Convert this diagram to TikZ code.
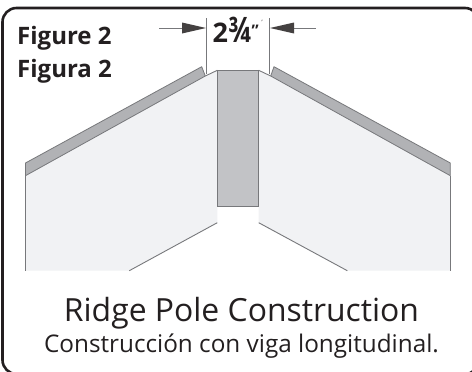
\documentclass[tikz,border=0pt]{standalone}
\usepackage{fontspec}
\usepackage{graphicx}
\setmainfont{Open Sans}
\definecolor{panelfill}{HTML}{F1F2F4}
\definecolor{boardfill}{HTML}{B1B2B5}
\definecolor{polefill}{HTML}{C2C3C6}
\definecolor{edgegray}{HTML}{77787B}
\definecolor{ink}{HTML}{231F20}
\tikzset{
  panel/.style={fill=panelfill,draw=none},
  edge/.style={draw=edgegray,line width=0.9pt,line cap=butt},
  board/.style={fill=boardfill,draw=edgegray,line width=0.8pt,line join=round},
  pole/.style={fill=polefill,draw=edgegray,line width=1pt},
  dimline/.style={draw=edgegray,line width=0.8pt},
  dimarrow/.style={fill=ink!85!white,draw=none},
  lbl/.style={inner sep=0pt,text=ink,anchor=base west},
}
\begin{document}
\begin{tikzpicture}[x=1pt,y=-1pt]
\useasboundingbox (0,0) rectangle (472,372);
\fill[white] (0,0) rectangle (472,372);
\begin{scope}
\clip (0,0) rectangle (472,372);
\draw[ink,line width=2.6pt,rounded corners=14pt] (2.5,8) rectangle (479,374);
\end{scope}
% left panel
\fill[panel] (25.5,175.7) -- (205.3,76) -- (217.3,70.3) -- (217.3,222.7) -- (129.3,270.7) -- (25.5,270.7) -- cycle;
\draw[edge] (25.5,270.7) -- (25.5,175.7);
\draw[edge] (129.3,270.7) -- (217.3,222.7);
\draw[edge] (205.3,76) -- (217.3,70.3);
\draw[board] (25.5,163) -- (201.7,66.7) -- (205.3,76) -- (25.5,175.7) -- cycle;
% right panel
\fill[panel] (450.3,175.7) -- (270.7,76) -- (258.7,70.3) -- (258.7,222.7) -- (347.3,270.7) -- (450.3,270.7) -- cycle;
\draw[edge] (450.3,270.7) -- (450.3,175.7);
\draw[edge] (347.3,270.7) -- (258.7,222.7);
\draw[edge] (270.7,76) -- (258.7,70.3);
\draw[board] (450.3,163) -- (274,66.7) -- (270.7,76) -- (450.3,175.7) -- cycle;
% pole
\draw[pole] (217.3,70.3) rectangle (258.7,206.7);
% dimension
\draw[dimline] (206,18) -- (206,74);
\draw[dimline] (269.7,18) -- (269.7,74);
\draw[dimline] (159,28) -- (182,28);
\draw[dimline] (293,28) -- (316,28);
\fill[dimarrow] (206,28) -- (182,22.5) -- (182,33.5) -- cycle;
\fill[dimarrow] (270,28) -- (294,22.5) -- (294,33.5) -- cycle;
\node[lbl,font=\fontsize{27}{27}\selectfont\bfseries] (dim) at (212.5,42) {2\scalebox{1}[1.3]{¾}};
\node[lbl,font=\fontsize{16}{16}\selectfont\bfseries] (inch) at (251.5,36.2) {\symbol{34}};
\node[lbl,font=\fontsize{6}{6}\selectfont] (tick) at (261.5,24.5) {\symbol{39}};
\node[lbl,font=\fontsize{24}{24}\selectfont\bfseries] (fig) at (17,45) {Figure 2};
\node[lbl,font=\fontsize{24}{24}\selectfont\bfseries] (figs) at (17,77) {Figura 2};
\node[inner sep=0pt,text=ink,anchor=base,font=\fontsize{31.9}{32}\selectfont] (title) at (241.5,321.5) {Ridge Pole Construction};
\node[inner sep=0pt,text=ink,anchor=base,font=\fontsize{24.3}{24}\selectfont] (sub) at (241.5,352) {Construcción con viga longitudinal.};
\end{tikzpicture}
\end{document}
